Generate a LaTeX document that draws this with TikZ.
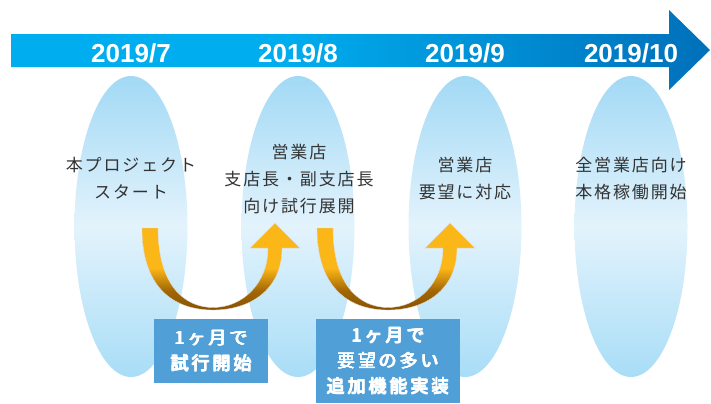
\documentclass[tikz,border=0pt]{standalone}
\usepackage{fontspec}
\usetikzlibrary{shapes.geometric}
\newfontfamily\jp{Noto Sans CJK JP}[LetterSpace=11]
\newfontfamily\jpb{Noto Sans CJK JP}[LetterSpace=16]
\newfontfamily\datefont{Liberation Sans}
\newcommand\fakebf[1]{\makebox[0pt][l]{\hspace{0.7bp}#1}\makebox[0pt][l]{\raisebox{0.4bp}{#1}}\makebox[0pt][l]{\hspace{0.7bp}\raisebox{0.4bp}{#1}}\makebox[0pt][l]{\hspace{0.35bp}\raisebox{0.2bp}{#1}}#1}
\definecolor{bandL}{HTML}{00AEEF}
\definecolor{bandR}{HTML}{0070BA}
\definecolor{ellTop}{HTML}{A2D9F5}
\definecolor{ellMid}{HTML}{E3F3FC}
\definecolor{ellBot}{HTML}{A8DDF7}
\definecolor{orTop}{HTML}{FBB617}
\definecolor{orDark}{HTML}{8A5200}
\definecolor{boxBlue}{HTML}{509FD7}
\definecolor{txtGray}{HTML}{333333}
\pgfdeclarehorizontalshading{bandshade}{100bp}{color(0bp)=(bandL); color(25bp)=(bandL); color(44bp)=(bandL); color(75bp)=(bandR); color(100bp)=(bandR)}
\pgfdeclareverticalshading{orshade}{100bp}{color(0bp)=(orDark); color(25bp)=(orDark); color(36bp)=(orDark!80!orTop); color(49bp)=(orTop); color(75bp)=(orTop); color(100bp)=(orTop)}
\tikzset{
  colell/.style={ellipse, minimum width=113bp, minimum height=301bp, inner sep=0pt,
    shade, top color=ellTop, bottom color=ellBot, middle color=ellMid},
  coltext/.style={align=center, text=txtGray, inner sep=0pt,
    font=\jp\fontsize{17bp}{27bp}\selectfont},
  datelbl/.style={anchor=base, text=white, inner sep=0pt,
    font=\datefont\bfseries\fontsize{26bp}{26bp}\selectfont},
  infobox/.style={fill=boxBlue, text=white, align=center, inner sep=0pt,
    font=\jpb\fontsize{18bp}{25.5bp}\selectfont},
  uarrow/.style={shading=orshade, draw=white!75!gray, line width=0.4bp},
}
\begin{document}
\begin{tikzpicture}[x=1bp,y=-1bp]
\useasboundingbox (0,0) rectangle (711,403);
% timeline band arrow
\path[shading=bandshade] (11,34) -- (669,34) -- (669,10) -- (710,50) -- (669,90) -- (669,67) -- (11,67) -- cycle;
% columns
\node[colell] (e1) at (131,226.5) {};
\node[colell] (e2) at (298,226.5) {};
\node[colell] (e3) at (465,226.5) {};
\node[colell] (e4) at (631,226.5) {};
% dates
\node[datelbl] (d1) at (131,62) {2019/7};
\node[datelbl] (d2) at (298,62) {2019/8};
\node[datelbl] (d3) at (465,62) {2019/9};
\node[datelbl] (d4) at (631,62) {2019/10};
% column texts
\node[coltext] (t1) at (131,178.5) {本プロジェクト\\スタート};
\node[coltext] (t2) at (299,179) {営業店\\支店長・副支店長\\向け試行展開};
\node[coltext] (t3) at (465,178.5) {営業店\\要望に対応};
\node[coltext] (t4) at (631,178.5) {全営業店向け\\本格稼働開始};
% U-shaped arrows
\foreach \dx/\nm in {0/u1,175/u2}{
\begin{scope}[xshift=\dx bp]
\path[uarrow] (142,228) .. controls (142,292) and (178,310) .. (213,310)
  .. controls (250,310) and (282,290) .. (282,248) -- (300,248) -- (275,223) -- (250,248) -- (268,248)
  .. controls (268,283) and (243,307.5) .. (213,307.5)
  .. controls (185,307.5) and (158,286) .. (158,228) -- cycle;
\end{scope}}
% info boxes
\node[infobox, minimum width=114bp, minimum height=64bp] (b1) at (211,351) {\fakebf{1ヶ月で}\\\fakebf{試行開始}};
\node[infobox, minimum width=144bp, minimum height=84bp] (b2) at (388,361) {\fakebf{1ヶ月で}\\\fakebf{要望の多い}\\\fakebf{追加機能実装}};
\end{tikzpicture}
\end{document}
